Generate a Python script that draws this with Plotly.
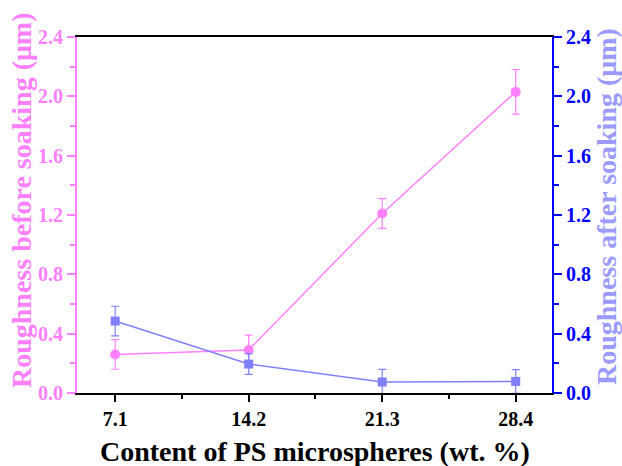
import plotly.graph_objects as go

content = [7.1, 14.2, 21.3, 28.4]
x_ticklabels = ["7.1", "14.2", "21.3", "28.4"]
before = [0.26, 0.29, 1.21, 2.03]
before_err = [0.10, 0.10, 0.10, 0.15]
after = [0.485, 0.195, 0.074, 0.078]
after_err = [0.10, 0.07, 0.085, 0.08]
y_ticks = [0.0, 0.4, 0.8, 1.2, 1.6, 2.0, 2.4]

PINK = "#FF80FF"
BLUE_S = "#8080FF"
BLUE_AX = "#0000FF"
FONT = "Liberation Serif"

L, R, T, B = 77, 70, 37, 73
W, H = 622, 466
PW, PH = W - L - R, H - T - B

def px_x(px):
    return (px - L) / PW

def px_y(py):
    return (H - B - py) / PH

fig = go.Figure()
fig.add_trace(go.Scatter(
    x=content, y=before, mode="lines+markers",
    line=dict(color=PINK, width=1.5),
    marker=dict(symbol="circle", size=10, color=PINK),
    error_y=dict(type="data", array=before_err, color=PINK, thickness=1.2, width=4),
    showlegend=False, yaxis="y"))
fig.add_trace(go.Scatter(
    x=content, y=after, mode="lines+markers",
    line=dict(color=BLUE_S, width=1.5),
    marker=dict(symbol="square", size=9, color=BLUE_S),
    error_y=dict(type="data", array=after_err, color=BLUE_S, thickness=1.2, width=4),
    showlegend=False, yaxis="y2"))

fig.update_layout(
    width=W, height=H,
    margin=dict(l=L, r=R, t=T, b=B, autoexpand=False),
    paper_bgcolor="white", plot_bgcolor="white",
    font=dict(family=FONT, size=16, color="black"),
    xaxis=dict(
        range=[5.07, 30.33], tickvals=content, ticktext=x_ticklabels,
        ticks="outside", ticklen=7, tickwidth=2, tickcolor="black",
        minor=dict(tickvals=[10.65, 17.75, 24.85], ticks="outside", ticklen=4, tickwidth=2, tickcolor="black"),
        showline=True, linecolor="black", linewidth=2, mirror=True,
        showgrid=False, zeroline=False, automargin=False,
        tickfont=dict(family=FONT, size=20, color="black", weight="bold"),
    ),
    yaxis=dict(
        range=[0, 2.4], tickvals=y_ticks, ticktext=[f"{v:.1f}" for v in y_ticks],
        ticks="outside", ticklen=8, tickwidth=2, tickcolor=PINK,
        minor=dict(dtick=0.2, ticks="outside", ticklen=5, tickwidth=2, tickcolor=PINK),
        showline=True, linecolor=PINK, linewidth=2,
        showgrid=False, zeroline=False, automargin=False,
        tickfont=dict(family=FONT, size=20, color=PINK, weight="bold"),
    ),
    yaxis2=dict(
        range=[0, 2.4], tickvals=y_ticks, ticktext=[f"{v:.1f}" for v in y_ticks],
        overlaying="y", side="right",
        ticks="outside", ticklen=8, tickwidth=2, tickcolor=BLUE_AX,
        minor=dict(dtick=0.2, ticks="outside", ticklen=5, tickwidth=2, tickcolor=BLUE_AX),
        showline=True, linecolor=BLUE_AX, linewidth=2,
        showgrid=False, zeroline=False, automargin=False,
        tickfont=dict(family=FONT, size=20, color=BLUE_AX, weight="bold"),
    ),
    annotations=[
        dict(text="<b>Content of PS microspheres (wt. %)</b>",
             xref="paper", yref="paper", x=0.5, y=px_y(452),
             xanchor="center", yanchor="middle", showarrow=False,
             font=dict(family=FONT, size=28, color="black")),
        dict(text="<b>Roughness before soaking (μm)</b>", textangle=-90,
             xref="paper", yref="paper", x=px_x(22), y=px_y(200),
             xanchor="center", yanchor="middle", showarrow=False,
             font=dict(family=FONT, size=28, color=PINK)),
        dict(text="<b>Roughness after soaking (μm)</b>", textangle=-90,
             xref="paper", yref="paper", x=px_x(607), y=px_y(207),
             xanchor="center", yanchor="middle", showarrow=False,
             font=dict(family=FONT, size=28, color="#9A9AFF")),
    ],
)

fig.write_html("out.html")
